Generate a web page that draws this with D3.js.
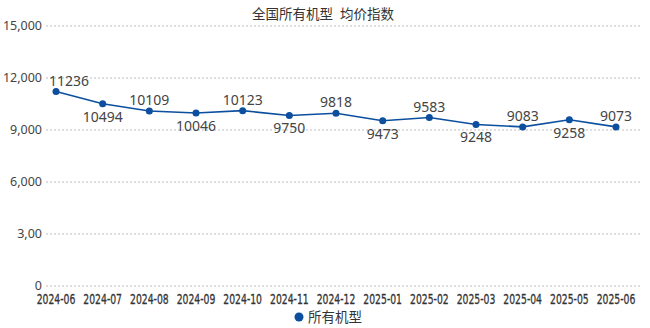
<!DOCTYPE html>
<html>
<head>
<meta charset="utf-8">
<script src="https://cdn.jsdelivr.net/npm/d3@7"></script>
<style>
  body { margin: 0; background: #fff; }
  svg { display: block; font-family: "Noto Sans", "Noto Sans CJK SC", sans-serif; }
</style>
</head>
<body>
<script>
const WIDTH = 650;
const HEIGHT = 328;

const months = ['2024-06', '2024-07', '2024-08', '2024-09', '2024-10', '2024-11', '2024-12',
  '2025-01', '2025-02', '2025-03', '2025-04', '2025-05', '2025-06'];
// plotted index values (read from point positions)
const indexValues = [11220, 10510, 10100, 9980, 10115, 9840, 9970, 9530, 9720, 9320, 9180, 9590, 9180];
// printed labels beside each point
const labelValues = ['11236', '10494', '10109', '10046', '10123', '9750', '9818', '9473', '9583', '9248', '9083', '9258', '9073'];
const yTicks = [0, 3000, 6000, 9000, 12000, 15000];
const yTickLabels = ['0', '3,00', '6,000', '9,000', '12,000', '15,000'];
const title = '全国所有机型  均价指数';
const seriesName = '所有机型';
const lineColor = '#0b4f9e';

const data = months.map((m, i) => ({ month: m, value: indexValues[i], label: labelValues[i] }));

const svg = d3.select('body')
  .append('svg')
  .attr('width', WIDTH)
  .attr('height', HEIGHT);

const xScale = d3.scalePoint()
  .domain(months)
  .range([56, 616]);

const yScale = d3.scaleLinear()
  .domain([0, 15000])
  .range([286, 26]);

// grid
svg.append('g')
  .selectAll('line')
  .data(yTicks)
  .join('line')
  .attr('x1', 46)
  .attr('x2', 641)
  .attr('y1', (d) => yScale(d))
  .attr('y2', (d) => yScale(d))
  .attr('stroke', '#bdbdbd')
  .attr('stroke-width', 1)
  .attr('stroke-dasharray', '2,2');

// y tick labels
svg.append('g')
  .selectAll('text')
  .data(yTicks)
  .join('text')
  .attr('x', 42)
  .attr('y', (d) => yScale(d))
  .attr('dy', '0.32em')
  .attr('text-anchor', 'end')
  .attr('fill', '#444')
  .attr('font-size', 12.5)
  .text((d, i) => yTickLabels[i]);

// x tick labels, condensed horizontally
svg.append('g')
  .selectAll('text')
  .data(months)
  .join('text')
  .attr('transform', (d) => `translate(${xScale(d)}, 304) scale(0.71, 1)`)
  .attr('text-anchor', 'middle')
  .attr('fill', '#333')
  .attr('font-family', '"Liberation Sans Narrow", "DejaVu Sans Condensed", sans-serif')
  .attr('font-size', 14.5)
  .attr('stroke', '#333')
  .attr('stroke-width', 0.3)
  .text((d) => d);

// title
svg.append('text')
  .attr('x', 323)
  .attr('y', 14)
  .attr('dy', '0.35em')
  .attr('text-anchor', 'middle')
  .attr('fill', '#333')
  .attr('font-size', 13.5)
  .style('white-space', 'pre')
  .text(title);

// line
const line = d3.line()
  .x((d) => xScale(d.month))
  .y((d) => yScale(d.value));

svg.append('path')
  .datum(data)
  .attr('d', line)
  .attr('fill', 'none')
  .attr('stroke', lineColor)
  .attr('stroke-width', 1.6);

svg.append('g')
  .selectAll('circle')
  .data(data)
  .join('circle')
  .attr('cx', (d) => xScale(d.month))
  .attr('cy', (d) => yScale(d.value))
  .attr('r', 3.5)
  .attr('fill', lineColor);

// point labels, alternating above / below
svg.append('g')
  .selectAll('text')
  .data(data)
  .join('text')
  .attr('x', (d) => Math.max(xScale(d.month), 69))
  .attr('y', (d, i) => yScale(d.value) + (i % 2 === 0 ? -6 : 18))
  .attr('text-anchor', 'middle')
  .attr('fill', '#444')
  .attr('font-size', 14)
  .text((d) => d.label);

// legend
const legend = svg.append('g').attr('transform', 'translate(299, 317)');
legend.append('circle').attr('r', 4.5).attr('fill', lineColor);
legend.append('text')
  .attr('x', 9)
  .attr('dy', '0.35em')
  .attr('fill', '#333')
  .attr('font-size', 13.5)
  .text(seriesName);
</script>
</body>
</html>
